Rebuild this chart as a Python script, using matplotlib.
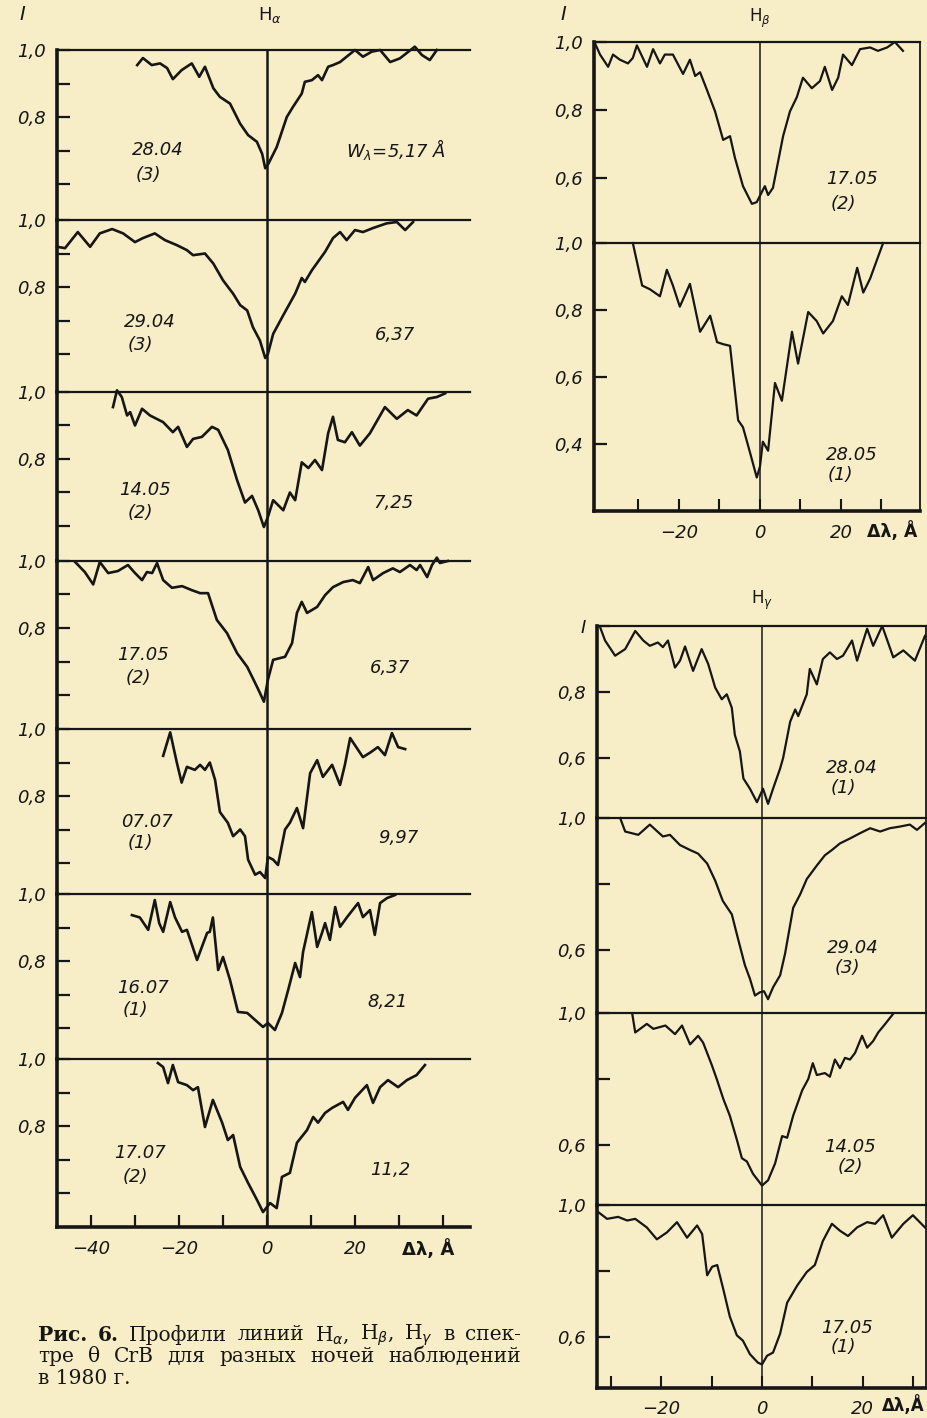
import numpy as np
import matplotlib.pyplot as plt

W, H = 928, 1418
PAPER = '#f7edc6'
INK = '#161616'

# H-alpha profiles: (delta lambda [A], relative intensity I)
ha_2804 = [(-29.5, 0.955), (-28.2, 0.976), (-26.2, 0.955), (-24.3, 0.96), (-22.7, 0.946),
           (-21.4, 0.913), (-19.4, 0.94), (-17.1, 0.96), (-15.4, 0.92), (-14.1, 0.95),
           (-12.2, 0.886), (-10.7, 0.86), (-8.4, 0.84), (-6.1, 0.78), (-4.3, 0.746),
           (-2.3, 0.726), (-1.1, 0.69), (-0.4, 0.647), (0.3, 0.66), (2.2, 0.71),
           (4.5, 0.80), (5.9, 0.83), (7.9, 0.87), (8.6, 0.905), (10.2, 0.91),
           (11.6, 0.925), (12.5, 0.91), (13.9, 0.95), (15.0, 0.955), (16.6, 0.964),
           (18.1, 0.98), (20.0, 1.0), (21.8, 0.98), (23.8, 0.995), (25.7, 1.0),
           (28.0, 0.964), (30.2, 0.975), (33.6, 1.01), (35.2, 0.985), (37.0, 0.97), (38.6, 1.0)]
ha_2904 = [(-47.7, 0.92), (-45.9, 0.916), (-43.0, 0.964), (-40.2, 0.92), (-38.0, 0.96),
           (-35.2, 0.973), (-32.7, 0.96), (-30.0, 0.934), (-28.2, 0.946), (-25.5, 0.96),
           (-23.2, 0.94), (-20.5, 0.925), (-18.2, 0.91), (-16.8, 0.895), (-14.1, 0.90),
           (-12.2, 0.87), (-10.0, 0.82), (-7.7, 0.78), (-6.1, 0.746), (-4.5, 0.73),
           (-3.2, 0.68), (-1.6, 0.64), (-0.4, 0.588), (0.2, 0.60), (1.4, 0.66),
           (3.7, 0.716), (6.4, 0.78), (7.9, 0.827), (8.6, 0.815), (10.2, 0.85),
           (13.2, 0.905), (15.0, 0.946), (16.6, 0.964), (18.1, 0.94), (20.0, 0.97),
           (21.8, 0.964), (24.1, 0.976), (27.2, 0.99), (29.5, 0.994), (31.4, 0.97), (33.2, 0.994)]
ha_1405 = [(-35.0, 0.955), (-34.1, 1.005), (-33.0, 0.985), (-31.8, 0.93), (-31.1, 0.94),
           (-30.0, 0.90), (-28.4, 0.95), (-26.6, 0.93), (-23.6, 0.91), (-21.4, 0.88),
           (-20.2, 0.896), (-18.2, 0.836), (-16.8, 0.86), (-14.8, 0.866), (-12.5, 0.896),
           (-11.1, 0.887), (-8.9, 0.827), (-6.8, 0.737), (-5.0, 0.67), (-3.4, 0.69),
           (-2.0, 0.647), (-0.7, 0.597), (0.2, 0.627), (1.4, 0.677), (3.7, 0.647),
           (5.2, 0.70), (6.4, 0.677), (7.9, 0.79), (9.4, 0.773), (10.9, 0.797),
           (12.5, 0.767), (13.9, 0.877), (15.0, 0.926), (16.1, 0.857), (17.7, 0.85),
           (19.3, 0.88), (21.1, 0.84), (23.4, 0.877), (26.8, 0.955), (29.5, 0.92),
           (32.0, 0.946), (34.0, 0.93), (36.6, 0.98), (38.6, 0.985), (40.5, 0.996)]
ha_1705 = [(-43.6, 0.997), (-41.4, 0.967), (-39.5, 0.93), (-38.0, 0.997), (-36.1, 0.964),
           (-33.9, 0.97), (-31.6, 0.988), (-30.0, 0.964), (-28.4, 0.943), (-27.3, 0.967),
           (-26.1, 0.964), (-25.0, 0.994), (-23.6, 0.943), (-21.6, 0.92), (-19.3, 0.925),
           (-17.1, 0.913), (-15.2, 0.904), (-13.4, 0.904), (-11.4, 0.824), (-9.1, 0.785),
           (-6.8, 0.725), (-4.5, 0.684), (-2.7, 0.636), (-1.6, 0.606), (-0.7, 0.58),
           (0.2, 0.645), (1.4, 0.705), (4.1, 0.714), (5.7, 0.755), (6.8, 0.845),
           (7.9, 0.878), (9.1, 0.845), (11.4, 0.863), (13.2, 0.898), (15.0, 0.922),
           (17.3, 0.937), (19.5, 0.943), (21.1, 0.934), (23.0, 0.982), (24.1, 0.943),
           (26.4, 0.964), (28.6, 0.978), (30.2, 0.967), (32.5, 0.988), (34.0, 0.973),
           (34.8, 0.988), (36.4, 0.952), (37.5, 0.988), (38.6, 1.01), (39.3, 0.994), (41.1, 1.0)]
ha_0707 = [(-23.6, 0.92), (-22.0, 0.99), (-20.5, 0.90), (-19.4, 0.84), (-18.2, 0.887),
           (-16.4, 0.878), (-15.2, 0.893), (-14.1, 0.878), (-13.0, 0.90), (-11.8, 0.848),
           (-10.7, 0.752), (-8.9, 0.72), (-7.7, 0.68), (-6.1, 0.70), (-5.0, 0.68),
           (-4.3, 0.61), (-2.7, 0.565), (-1.6, 0.573), (-0.4, 0.555), (0.2, 0.618),
           (1.4, 0.61), (2.5, 0.594), (4.1, 0.70), (5.2, 0.72), (6.8, 0.764),
           (8.2, 0.704), (9.8, 0.868), (11.4, 0.907), (12.7, 0.857), (14.8, 0.893),
           (16.6, 0.833), (17.7, 0.893), (18.9, 0.973), (21.8, 0.916), (23.5, 0.93),
           (25.2, 0.946), (26.8, 0.922), (28.4, 0.988), (29.8, 0.946), (31.4, 0.94)]
ha_1607 = [(-30.7, 0.937), (-28.9, 0.93), (-27.0, 0.893), (-25.5, 0.982), (-24.5, 0.913),
           (-23.6, 0.887), (-22.0, 0.976), (-20.9, 0.93), (-19.3, 0.887), (-18.2, 0.893),
           (-15.9, 0.803), (-14.8, 0.842), (-13.6, 0.884), (-13.0, 0.887), (-12.3, 0.93),
           (-11.1, 0.773), (-10.0, 0.812), (-8.4, 0.743), (-6.6, 0.648), (-4.5, 0.645),
           (-2.7, 0.624), (-0.9, 0.603), (0.2, 0.615), (1.8, 0.594), (3.4, 0.645),
           (4.8, 0.713), (6.4, 0.794), (7.5, 0.752), (8.2, 0.827), (10.2, 0.946),
           (11.4, 0.842), (12.5, 0.884), (13.2, 0.913), (14.3, 0.863), (15.5, 0.961),
           (16.6, 0.902), (18.2, 0.931), (20.7, 0.973), (21.8, 0.931), (23.4, 0.952),
           (24.5, 0.878), (25.7, 0.973), (27.3, 0.988), (29.1, 0.997)]
ha_1707 = [(-24.8, 0.988), (-23.6, 0.976), (-22.5, 0.928), (-21.4, 0.982), (-20.2, 0.931),
           (-18.2, 0.922), (-16.8, 0.907), (-15.7, 0.916), (-14.1, 0.797), (-12.3, 0.878),
           (-10.2, 0.81), (-8.9, 0.758), (-7.7, 0.773), (-6.1, 0.678), (-4.3, 0.63),
           (-2.3, 0.58), (-0.9, 0.543), (0.7, 0.57), (2.2, 0.555), (3.4, 0.648),
           (5.2, 0.66), (6.8, 0.75), (9.1, 0.788), (10.5, 0.827), (11.6, 0.81),
           (13.2, 0.839), (14.8, 0.854), (17.3, 0.872), (18.4, 0.848), (20.0, 0.884),
           (22.7, 0.922), (24.1, 0.869), (25.7, 0.916), (27.5, 0.937), (29.8, 0.916),
           (31.8, 0.937), (34.0, 0.952), (35.9, 0.982)]

ha_profiles = [ha_2804, ha_2904, ha_1405, ha_1705, ha_0707, ha_1607, ha_1707]
ha_dates = ['28.04', '29.04', '14.05', '17.05', '07.07', '16.07', '17.07']
ha_nights = ['(3)', '(3)', '(2)', '(2)', '(1)', '(1)', '(2)']
ha_widths = ['W$_\\lambda$=5,17 Å', '6,37', '7,25', '6,37', '9,97', '8,21', '11,2']

# H-beta profiles
hb_1705 = [(-40.7, 0.995), (-39.5, 0.963), (-37.5, 0.927), (-36.3, 0.963), (-34.6, 0.948),
           (-32.6, 0.937), (-31.4, 0.953), (-30.4, 0.99), (-27.9, 0.927), (-26.4, 0.979),
           (-24.7, 0.937), (-23.5, 0.963), (-21.5, 0.963), (-19.0, 0.906), (-17.3, 0.948),
           (-16.0, 0.90), (-14.8, 0.911), (-13.1, 0.859), (-11.1, 0.796), (-9.1, 0.712),
           (-7.4, 0.723), (-6.2, 0.66), (-4.2, 0.576), (-2.0, 0.524), (-0.8, 0.529),
           (0.5, 0.56), (1.2, 0.576), (2.0, 0.55), (3.2, 0.571), (5.7, 0.723),
           (7.4, 0.796), (9.1, 0.838), (10.6, 0.895), (12.8, 0.864), (14.8, 0.885),
           (16.0, 0.927), (17.8, 0.859), (19.3, 0.895), (20.5, 0.963), (22.7, 0.932),
           (24.7, 0.979), (27.2, 0.984), (29.1, 0.974), (31.4, 0.984), (33.3, 1.0), (35.3, 0.974)]
hb_2805 = [(-31.4, 1.0), (-29.1, 0.873), (-27.2, 0.862), (-24.7, 0.841), (-23.0, 0.92),
           (-21.5, 0.873), (-19.8, 0.81), (-17.3, 0.878), (-14.8, 0.735), (-12.3, 0.783),
           (-10.6, 0.704), (-9.1, 0.698), (-7.4, 0.693), (-5.4, 0.471), (-4.2, 0.45),
           (-2.5, 0.376), (-0.8, 0.30), (0.0, 0.333), (0.7, 0.407), (2.0, 0.38),
           (3.7, 0.582), (5.4, 0.529), (7.9, 0.735), (9.4, 0.64), (11.9, 0.794),
           (14.0, 0.767), (15.6, 0.73), (18.0, 0.767), (20.2, 0.841), (21.7, 0.815),
           (24.0, 0.926), (25.5, 0.852), (27.2, 0.894), (30.4, 1.0)]
hb_profiles = [hb_1705, hb_2805]
hb_dates = ['17.05', '28.05']
hb_nights = ['(2)', '(1)']

# H-gamma profiles
hg_2804 = [(-32.2, 0.997), (-31.2, 0.956), (-29.2, 0.91), (-27.2, 0.93), (-25.2, 0.985),
           (-23.6, 0.956), (-22.3, 0.94), (-20.7, 0.95), (-19.7, 0.936), (-18.7, 0.956),
           (-17.3, 0.874), (-16.3, 0.895), (-15.3, 0.938), (-13.7, 0.864), (-12.0, 0.93),
           (-10.7, 0.885), (-9.3, 0.813), (-8.0, 0.778), (-7.0, 0.793), (-6.0, 0.752),
           (-5.4, 0.67), (-4.4, 0.62), (-3.7, 0.538), (-2.4, 0.507), (-1.0, 0.466),
           (0.2, 0.507), (1.2, 0.461), (2.2, 0.507), (3.6, 0.568), (4.2, 0.60),
           (5.6, 0.71), (6.6, 0.747), (7.2, 0.727), (8.9, 0.793), (9.5, 0.87),
           (10.9, 0.823), (12.1, 0.90), (13.5, 0.92), (14.9, 0.90), (16.1, 0.91),
           (17.9, 0.956), (18.9, 0.895), (20.9, 0.992), (22.1, 0.94), (23.9, 1.0),
           (26.1, 0.905), (28.1, 0.926), (30.4, 0.895), (32.4, 0.97)]
hg_2904 = [(-28.2, 1.0), (-27.2, 0.959), (-24.6, 0.949), (-22.3, 0.98), (-19.7, 0.944),
           (-18.3, 0.949), (-16.3, 0.918), (-14.3, 0.903), (-12.7, 0.892), (-10.9, 0.862),
           (-9.3, 0.81), (-7.8, 0.749), (-6.0, 0.708), (-4.8, 0.636), (-3.4, 0.554),
           (-2.4, 0.513), (-1.4, 0.462), (-0.4, 0.472), (0.4, 0.475), (1.2, 0.451),
           (2.2, 0.487), (3.6, 0.523), (4.6, 0.59), (6.2, 0.728), (7.6, 0.769),
           (8.9, 0.815), (10.9, 0.856), (12.5, 0.887), (13.9, 0.903), (15.5, 0.923),
           (17.5, 0.938), (19.5, 0.954), (21.5, 0.969), (23.5, 0.959), (25.4, 0.969),
           (27.4, 0.974), (29.4, 0.98), (30.8, 0.964), (32.4, 0.985)]
hg_1405 = [(-25.8, 0.998), (-25.2, 0.941), (-22.9, 0.967), (-21.6, 0.952), (-19.2, 0.962),
           (-17.3, 0.936), (-15.9, 0.962), (-14.3, 0.905), (-12.7, 0.931), (-11.7, 0.91),
           (-10.0, 0.843), (-9.0, 0.80), (-7.7, 0.74), (-6.4, 0.689), (-5.0, 0.616),
           (-4.0, 0.56), (-3.0, 0.55), (-1.8, 0.513), (0.0, 0.477), (1.2, 0.493),
           (2.6, 0.544), (4.0, 0.627), (5.0, 0.622), (6.2, 0.689), (8.0, 0.766),
           (9.2, 0.80), (10.1, 0.848), (10.9, 0.812), (12.5, 0.818), (13.5, 0.807),
           (14.5, 0.859), (15.5, 0.833), (16.5, 0.864), (17.5, 0.859), (18.5, 0.879),
           (19.9, 0.931), (20.9, 0.895), (22.1, 0.915), (23.1, 0.941), (24.5, 0.967), (26.1, 0.998)]
hg_1705 = [(-32.6, 0.979), (-30.8, 0.958), (-28.6, 0.964), (-26.8, 0.953), (-25.2, 0.958),
           (-22.9, 0.932), (-20.9, 0.896), (-18.9, 0.917), (-16.9, 0.948), (-14.9, 0.901),
           (-12.9, 0.938), (-11.9, 0.912), (-10.9, 0.787), (-9.9, 0.813), (-8.9, 0.818),
           (-7.7, 0.745), (-6.4, 0.662), (-5.0, 0.605), (-3.8, 0.589), (-2.4, 0.548),
           (-0.8, 0.522), (0.0, 0.517), (1.0, 0.543), (2.2, 0.553), (3.6, 0.61),
           (5.0, 0.704), (7.0, 0.756), (8.9, 0.797), (10.5, 0.818), (12.1, 0.891),
           (13.9, 0.943), (15.5, 0.922), (17.1, 0.906), (18.9, 0.932), (20.9, 0.948),
           (22.5, 0.943), (24.1, 0.969), (25.8, 0.901), (28.1, 0.943), (30.0, 0.969), (32.4, 0.932)]
hg_profiles = [hg_2804, hg_2904, hg_1405, hg_1705]
hg_dates = ['28.04', '29.04', '14.05', '17.05']
hg_nights = ['(1)', '(3)', '(2)', '(1)']

caption_lines = [['Рис.', '6.', 'Профили', 'линий', 'H$_\\alpha$,', 'H$_\\beta$,', 'H$_\\gamma$', 'в', 'спек-'],
                 ['тре', 'θ', 'CrB', 'для', 'разных', 'ночей', 'наблюдений'],
                 ['в 1980 г.']]

plt.rcParams['font.family'] = ['DejaVu Sans']
LAB = dict(fontsize=13, fontstyle='italic', color=INK)

fig = plt.figure(figsize=(W / 100, H / 100), dpi=100, facecolor=PAPER)


def add_panel(left, top, right, bottom):
    return fig.add_axes([left / W, 1 - bottom / H, (right - left) / W, (bottom - top) / H])


def px_text(x, y, s, **kw):
    opts = dict(LAB)
    opts.update(kw)
    return fig.text(x / W, 1 - y / H, s, ha=opts.pop('ha', 'center'),
                    va=opts.pop('va', 'center'), **opts)


def setup(ax, xlim, ylim, yticks, ylabels, zero_lw, right=False, bottom=False):
    ax.set_facecolor('none')
    ax.set_xlim(xlim)
    ax.set_ylim(ylim)
    ax.spines['left'].set_linewidth(2.6)
    ax.spines['top'].set_linewidth(1.6)
    ax.spines['right'].set_visible(right)
    ax.spines['right'].set_linewidth(1.3)
    ax.spines['bottom'].set_visible(bottom)
    ax.spines['bottom'].set_linewidth(2.6)
    for s in ax.spines.values():
        s.set_color(INK)
    ax.axvline(0, color=INK, lw=zero_lw, zorder=1)
    ax.set_yticks(yticks)
    ax.set_yticklabels(ylabels, fontstyle='italic', fontsize=13, color=INK)
    ax.tick_params(axis='y', direction='in', length=9, width=1.6, pad=8, color=INK)
    if not bottom:
        ax.set_xticks([])


def draw_profile(ax, prof, lw):
    dl, inten = np.array(prof).T
    ax.plot(dl, inten, color=INK, lw=lw, solid_joinstyle='round', clip_on=False, zorder=3)


# ---- H-alpha column ----
ha_tops = [50, 220, 392, 561, 729, 894, 1059, 1227]
ha_left, ha_right, ha_zero, ha_scale = 57, 470, 267, 4.4
ha_xlim = ((ha_left - ha_zero) / ha_scale, (ha_right - ha_zero) / ha_scale)
ha_date_xy = [(158, 150), (150, 322), (145, 490), (143, 655), (147, 822), (143, 988), (140, 1153)]
ha_night_xy = [(148, 175), (140, 345), (140, 513), (138, 678), (140, 843), (135, 1010), (135, 1177)]
ha_w_xy = [(396, 150), (395, 335), (393, 503), (390, 668), (398, 838), (388, 1002), (390, 1170)]

for k, prof in enumerate(ha_profiles):
    top, bot = ha_tops[k], ha_tops[k + 1]
    last = k == len(ha_profiles) - 1
    ax = add_panel(ha_left, top, ha_right, bot)
    setup(ax, ha_xlim, (1 - (bot - top) / 335, 1.0), [0.6, 0.7, 0.8, 0.9, 1.0],
          ['', '', '0,8', '', '1,0'], zero_lw=1.8, bottom=last)
    draw_profile(ax, prof, 1.9)
    px_text(*ha_date_xy[k], ha_dates[k])
    px_text(*ha_night_xy[k], ha_nights[k])
    px_text(*ha_w_xy[k], ha_widths[k])
    if last:
        ax.set_xticks(np.arange(-40, 41, 10))
        ax.set_xticklabels(['−40', '', '−20', '', '0', '', '20', '', ''],
                           fontstyle='italic', fontsize=13, color=INK)
        ax.tick_params(axis='x', direction='in', length=9, width=1.6, pad=9, color=INK)

px_text(22, 15, 'I', fontsize=14)
px_text(270, 15, 'H$_\\alpha$', fontstyle='normal', fontsize=13)
px_text(428, 1249, 'Δλ, Å', fontstyle='normal', fontweight='bold', fontsize=13)

# ---- H-beta block ----
hb_tops = [42, 243, 511]
hb_left, hb_right, hb_zero, hb_scale = 594, 920, 760, 4.05
hb_xlim = ((hb_left - hb_zero) / hb_scale, (hb_right - hb_zero) / hb_scale)
hb_ylims = [(1 - 201 / 340, 1.0), (0.2, 1.0)]
hb_yt = [[0.6, 0.8, 1.0], [0.4, 0.6, 0.8, 1.0]]
hb_yl = [['0,6', '0,8', '1,0'], ['0,4', '0,6', '0,8', '1,0']]
hb_date_xy = [(852, 179), (852, 455)]
hb_night_xy = [(843, 204), (840, 475)]
for k, prof in enumerate(hb_profiles):
    last = k == len(hb_profiles) - 1
    ax = add_panel(hb_left, hb_tops[k], hb_right, hb_tops[k + 1])
    setup(ax, hb_xlim, hb_ylims[k], hb_yt[k], hb_yl[k], zero_lw=1.1, right=True, bottom=last)
    draw_profile(ax, prof, 1.6)
    px_text(*hb_date_xy[k], hb_dates[k])
    px_text(*hb_night_xy[k], hb_nights[k])
    if last:
        ax.set_xticks(np.arange(-30, 31, 10))
        ax.set_xticklabels(['', '−20', '', '0', '', '20', ''],
                           fontstyle='italic', fontsize=13, color=INK)
        ax.tick_params(axis='x', direction='in', length=9, width=1.5, pad=9, color=INK)

px_text(563, 15, 'I', fontsize=14)
px_text(760, 18, 'H$_\\beta$', fontstyle='normal', fontsize=12)
px_text(917, 531, 'Δλ, Å', fontstyle='normal', fontweight='bold', fontsize=12.5, ha='right')

# ---- H-gamma block ----
hg_tops = [626, 818, 1013, 1205, 1388]
hg_left, hg_right, hg_zero, hg_scale = 597, 926, 762, 5.03
hg_xlim = ((hg_left - hg_zero) / hg_scale, (hg_right - hg_zero) / hg_scale)
hg_date_xy = [(852, 768), (853, 948), (850, 1147), (847, 1328)]
hg_night_xy = [(843, 788), (847, 968), (850, 1167), (843, 1347)]
for k, prof in enumerate(hg_profiles):
    top, bot = hg_tops[k], hg_tops[k + 1]
    last = k == len(hg_profiles) - 1
    ylabels = ['0,6', '0,8', 'I'] if k == 0 else ['0,6', '', '1,0']
    ax = add_panel(hg_left, top, hg_right, bot)
    setup(ax, hg_xlim, (1 - (bot - top) / 330, 1.0), [0.6, 0.8, 1.0], ylabels,
          zero_lw=1.1, right=True, bottom=last)
    draw_profile(ax, prof, 1.6)
    px_text(*hg_date_xy[k], hg_dates[k])
    px_text(*hg_night_xy[k], hg_nights[k])
    if last:
        ax.set_xticks(np.arange(-30, 31, 10))
        ax.set_xticklabels(['', '−20', '', '0', '', '20', ''],
                           fontstyle='italic', fontsize=13, color=INK)
        ax.tick_params(axis='x', direction='in', length=9, width=1.5, pad=9, color=INK)

px_text(762, 600, 'H$_\\gamma$', fontstyle='normal', fontsize=12)
px_text(925, 1405, 'Δλ,Å', fontstyle='normal', fontweight='bold', fontsize=12, ha='right')

# ---- caption, justified between two margins ----
CAP = dict(family='DejaVu Serif', fontsize=14.5, color=INK, ha='left', va='center')
cap_x0, cap_x1 = 38, 521
renderer = fig.canvas.get_renderer()
for row, words in enumerate(caption_lines):
    y = 1335 + 21.5 * row
    texts = [px_text(0, y, w, fontstyle='normal', fontweight='bold' if row == 0 and i < 2 else 'normal',
                     **CAP) for i, w in enumerate(words)]
    widths = [t.get_window_extent(renderer).width for t in texts]
    gap = (cap_x1 - cap_x0 - sum(widths)) / max(len(words) - 1, 1)
    if len(words) == 1:
        gap = 0
    x = cap_x0
    for t, w in zip(texts, widths):
        t.set_x(x / W)
        x += w + gap

fig.savefig('out.png', dpi=100, facecolor=PAPER)
